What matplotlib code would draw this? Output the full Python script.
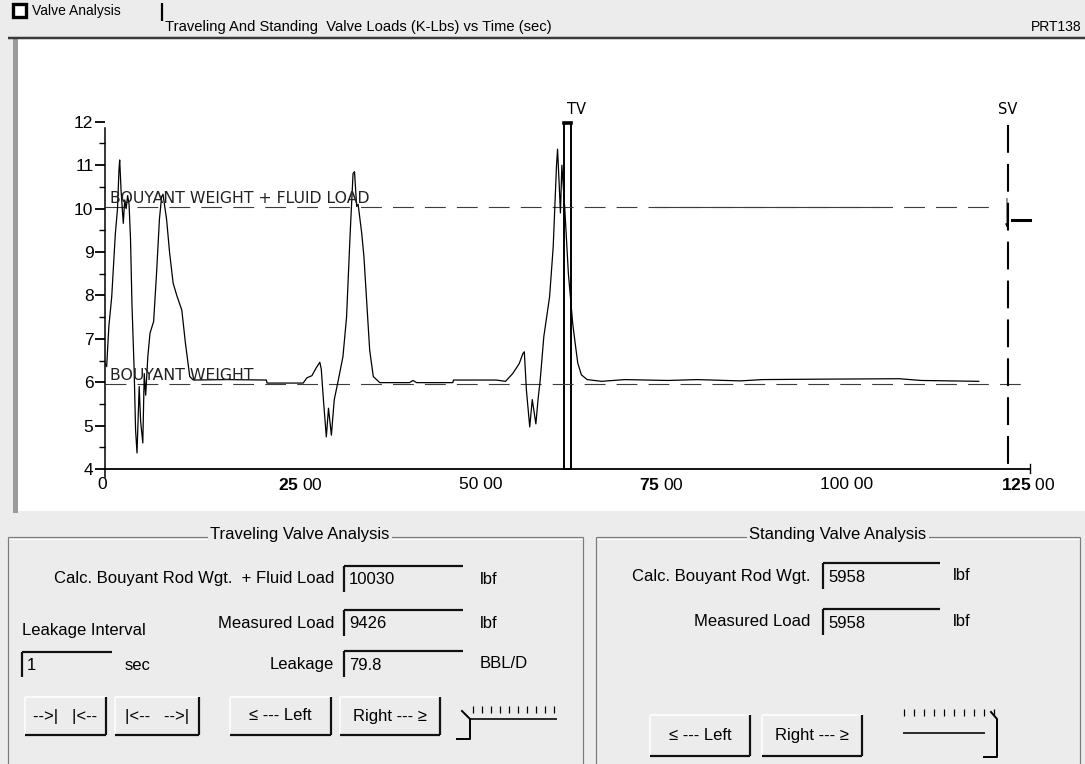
import matplotlib
matplotlib.use("Agg")
import matplotlib.pyplot as plt
from matplotlib.patches import Rectangle
from matplotlib.ticker import MultipleLocator
from matplotlib.transforms import ScaledTranslation

plt.rcParams.update({
    "font.family": ["Liberation Sans", "DejaVu Sans"],
    "mathtext.fontset": "custom",
    "mathtext.rm": "Liberation Sans",
    "mathtext.bf": "Liberation Sans:bold",
    "lines.scale_dashes": False,
})

# Measured rod load (K-Lbs) against time (sec)
time_s = [
    0.0, 0.3, 0.6, 1.0, 1.5, 1.8, 2.0, 2.1, 2.3, 2.6, 2.8, 3.0, 3.2, 3.4,
    3.6, 3.8, 4.1, 4.3, 4.5, 4.8, 5.0, 5.3, 5.5, 5.7, 6.0, 6.3, 6.8, 7.2,
    7.6, 7.9, 8.1, 8.6, 9.0, 9.5, 10.0, 10.7, 11.2, 11.8, 12.3, 17.0, 22.4,
    22.5, 27.5, 28.0, 28.7, 29.3, 29.8, 30.0, 30.3, 30.7, 31.0, 31.4, 31.8,
    32.3, 33.0, 33.5, 34.0, 34.4, 34.6, 34.9, 35.1, 35.6, 35.9, 36.3, 36.7,
    37.2, 38.1, 42.2, 42.7, 43.2, 48.2, 48.3, 54.2, 55.5, 56.5, 57.4, 57.9,
    58.1, 58.4, 58.85, 59.2, 59.7, 60.0, 60.3, 60.8, 61.6, 62.1, 62.55,
    62.7, 62.9, 63.1, 63.3, 63.7, 64.2, 64.6, 64.8, 65.2, 65.5, 66.0, 66.8,
    68.8, 72.0, 78.0, 82.0, 88.0, 91.0, 99.0, 110.0, 113.0, 121.0,
]
load_klbs = [
    6.45, 6.36, 7.28, 7.97, 9.42, 10.0, 10.88, 11.12, 10.4, 9.66, 10.2,
    10.0, 10.3, 10.1, 9.3, 7.8, 6.3, 4.9, 4.37, 5.9, 5.1, 4.6, 6.2, 5.7,
    6.6, 7.13, 7.4, 8.5, 9.75, 10.27, 10.33, 9.74, 9.0, 8.28, 8.0, 7.66,
    6.9, 6.13, 6.05, 6.06, 6.05, 5.98, 5.98, 6.1, 6.15, 6.33, 6.46, 6.3,
    5.59, 4.74, 5.4, 4.78, 5.6, 6.0, 6.59, 7.5, 9.43, 10.81, 10.85, 10.05,
    10.1, 9.43, 8.9, 7.82, 6.74, 6.13, 5.99, 5.99, 6.04, 5.99, 5.99, 6.05,
    6.05, 6.02, 6.2, 6.43, 6.66, 6.7, 5.8, 4.97, 5.6, 5.04, 5.6, 6.05,
    7.05, 7.97, 9.12, 10.97, 11.37, 10.66, 9.9, 11.0, 10.0, 8.5, 7.74,
    7.35, 6.82, 6.44, 6.17, 6.06, 6.02, 6.06, 6.04, 6.06, 6.03, 6.06,
    6.07, 6.08, 6.04, 6.02,
]

fluid_load_klbs = 10.030
bouyant_wgt_klbs = 5.958
tv_window = (63.6, 64.6)
sv_time = 125.0

x_ticks = [0, 25, 50, 75, 100, 125]
x_tick_labels = ["0", r"$\bf{25}$ 00", "50 00", r"$\bf{75}$ 00",
                 "100 00", r"$\bf{125}$ 00"]
y_ticks = [4, 5, 6, 7, 8, 9, 10, 11, 12]

# form fields: (label, value, unit)
tv_fields = [("Calc. Bouyant Rod Wgt.  + Fluid Load", "10030", "lbf"),
             ("Measured Load", "9426", "lbf"),
             ("Leakage", "79.8", "BBL/D")]
sv_fields = [("Calc. Bouyant Rod Wgt.", "5958", "lbf"),
             ("Measured Load", "5958", "lbf")]

BG = "#ececec"
W, H = 1085, 764
UI_SIZE = 12

fig = plt.figure(figsize=(W / 100, H / 100), dpi=100, facecolor=BG)

# pixel-space layer for the window chrome
ui = fig.add_axes([0, 0, 1, 1])
ui.set_xlim(0, W)
ui.set_ylim(H, 0)
ui.axis("off")
ui.set_zorder(0)


def seg(x0, y0, x1, y1, color="black", lw=1.0, **kw):
    ui.plot([x0, x1], [y0, y1], color=color, lw=lw * 0.72,
            solid_capstyle="butt", **kw)


def label(x, y, s, ha="left", size=UI_SIZE, **kw):
    ui.text(x, y, s, ha=ha, va="center", fontsize=size, color="black", **kw)


def field(x0, x1, y0, y1, value):
    seg(x0, y0, x1, y0, "#111111", 2.2)
    seg(x0, y0, x0, y1, "#111111", 2.2)
    label(x0 + 5, (y0 + y1) / 2 + 1, value)


def button(x0, x1, y0, y1, text):
    seg(x0, y0, x0, y1, "white", 1.5)
    seg(x0, y0, x1, y0, "white", 1.5)
    seg(x0, y1, x1, y1, "#111111", 2.2)
    seg(x1, y0, x1, y1, "#111111", 2.2)
    label((x0 + x1) / 2, (y0 + y1) / 2, text, ha="center")


def group(x0, x1, y0, y1, title, tx):
    seg(x0, y0, x1, y0, "#7a7a7a", 1.2)
    seg(x0, y0, x0, y1, "#7a7a7a", 1.2)
    seg(x1, y0, x1, y1, "#7a7a7a", 1.2)
    seg(x0 + 1, y0 + 1.5, x1 - 1, y0 + 1.5, "white", 1.0)
    ui.text(tx, y0 - 2, title, ha="center", va="center", fontsize=UI_SIZE,
            bbox=dict(fc=BG, ec="none", pad=1.5))


# header strip
ui.add_patch(Rectangle((13, 4), 13, 13, fc="white", ec="black", lw=2.4))
label(32, 11, "Valve Analysis", size=10)
seg(162, 3, 162, 21, "black", 2.2)
label(165, 27, "Traveling And Standing  Valve Loads (K-Lbs) vs Time (sec)",
      size=10.6)
label(1081, 27, "PRT138", ha="right", size=10)

# chart panel
ui.add_patch(Rectangle((18, 39), W - 18, 472, fc="white", ec="none"))
ui.add_patch(Rectangle((13, 37), 5, 476, fc="#9c9c9c", ec="none"))
seg(8, 38, W, 38, "#3a3a3a", 2.5)

# traveling valve group
group(8, 583, 537, 770, "Traveling Valve Analysis", 300)
for (name, value, unit), yc in zip(tv_fields, [579, 623, 664]):
    label(334, yc, name, ha="right")
    field(344, 463, yc - 13, yc + 13, value)
    label(480, yc, unit)
label(22, 631, "Leakage Interval")
field(22, 112, 652, 677, "1")
label(125, 665, "sec")
button(25, 106, 697, 735, "-->|   |<--")
button(115, 199, 697, 735, "|<--   -->|")
button(230, 331, 697, 735, "≤ --- Left")
button(340, 440, 697, 735, "Right --- ≥")
for xt in range(473, 556, 9):
    seg(xt, 706, xt, 713, "black", 1.2)
seg(470, 719, 557, 719, "black", 1.6)
ui.plot([462, 470, 470, 457], [711, 719, 739, 739], color="black", lw=1.4)

# standing valve group
group(596, 1080, 537, 770, "Standing Valve Analysis", 838)
for (name, value, unit), yc in zip(sv_fields, [576, 622]):
    label(810, yc, name, ha="right")
    field(823, 940, yc - 13, yc + 13, value)
    label(953, yc, unit)
button(650, 750, 715, 756, "≤ --- Left")
button(762, 862, 715, 756, "Right --- ≥")
for xt in range(904, 996, 10):
    seg(xt, 709, xt, 716, "black", 1.2)
seg(903, 733, 985, 733, "black", 1.6)
ui.plot([991, 997, 997, 984], [712, 719, 757, 757], color="black", lw=1.4)

# ---- load chart -------------------------------------------------------
px_left, px_right = 104.5, 1030.0
px_y4, px_y12 = 469.0, 121.8
x_max = sv_time * (px_right - px_left) / (1007.7 - px_left)

ax = fig.add_axes([px_left / W, 1 - px_y4 / H,
                   (px_right - px_left) / W, (px_y4 - px_y12) / H])
ax.set_zorder(1)
ax.set_facecolor("none")
ax.set_xlim(0, x_max)
ax.set_ylim(4, 12)
for side in ("top", "right"):
    ax.spines[side].set_visible(False)
ax.spines["left"].set_bounds(4, 11.85)
ax.spines["left"].set_linewidth(1.1)
ax.spines["bottom"].set_linewidth(1.3)

ax.set_yticks(y_ticks)
ax.yaxis.set_minor_locator(MultipleLocator(0.5))
ax.tick_params(axis="y", which="major", direction="out", length=7, width=1.3,
               labelsize=12.5, pad=1)
ax.tick_params(axis="y", which="minor", direction="out", length=4, width=1.0)
ax.set_xticks(x_ticks)
ax.set_xticklabels(x_tick_labels)
ax.tick_params(axis="x", length=0, labelsize=12.5, pad=6)
shift = ScaledTranslation(-7 / 100, 0, fig.dpi_scale_trans)
for t in ax.get_xticklabels():
    t.set_ha("left")
    t.set_transform(t.get_transform() + shift)

# origin and end-of-axis marks
ax.plot([0, 0], [3.82, 4.0], color="black", lw=1.1, clip_on=False)
ax.plot([x_max, x_max], [3.9, 4.12], color="black", lw=1.0, clip_on=False)

# reference loads
ref = dict(color="#3c3c3c", lw=0.8, ls=(0, (15, 8)))
ax.plot([0, 123.4], [fluid_load_klbs] * 2, **ref)
ax.plot([76.2, 107.1], [fluid_load_klbs] * 2, color="#3c3c3c", lw=0.8)
ax.plot([0, x_max], [bouyant_wgt_klbs] * 2, clip_on=False, **ref)
ax.text(0.75, fluid_load_klbs + 0.1, "BOUYANT WEIGHT + FLUID LOAD",
        family="DejaVu Sans", fontsize=11.3, color="#222222", va="baseline")
ax.text(0.75, bouyant_wgt_klbs + 0.09, "BOUYANT WEIGHT",
        family="DejaVu Sans", fontsize=11.3, color="#222222", va="baseline")

# measured trace
ax.plot(time_s, load_klbs, color="black", lw=0.9)

# traveling valve window
ax.add_patch(Rectangle((tv_window[0], 4), tv_window[1] - tv_window[0], 7.98,
                       fill=False, ec="black", lw=1.4, clip_on=False))
ax.plot(tv_window, [11.98, 11.98], color="black", lw=2.6, clip_on=False)
ax.text(tv_window[0] + 0.4, 12.1, "TV", family="DejaVu Sans", fontsize=10.5,
        va="bottom", ha="left")

# standing valve cursor
ax.plot([sv_time, sv_time], [11.93, 4.0], color="black", lw=1.5,
        ls=(0, (20, 8)), clip_on=False)
ax.annotate("", xy=(sv_time - 0.1, 9.5), xytext=(sv_time - 0.1, 10.3),
            arrowprops=dict(arrowstyle="-|>", lw=0.6, color="black",
                            mutation_scale=5))
ax.plot([sv_time + 0.6, x_max], [9.74, 9.74], color="black", lw=2.2,
        clip_on=False)
ax.text(sv_time, 12.1, "SV", family="DejaVu Sans", fontsize=10.5,
        va="bottom", ha="center")

fig.savefig("out.png", dpi=100, facecolor=BG)
